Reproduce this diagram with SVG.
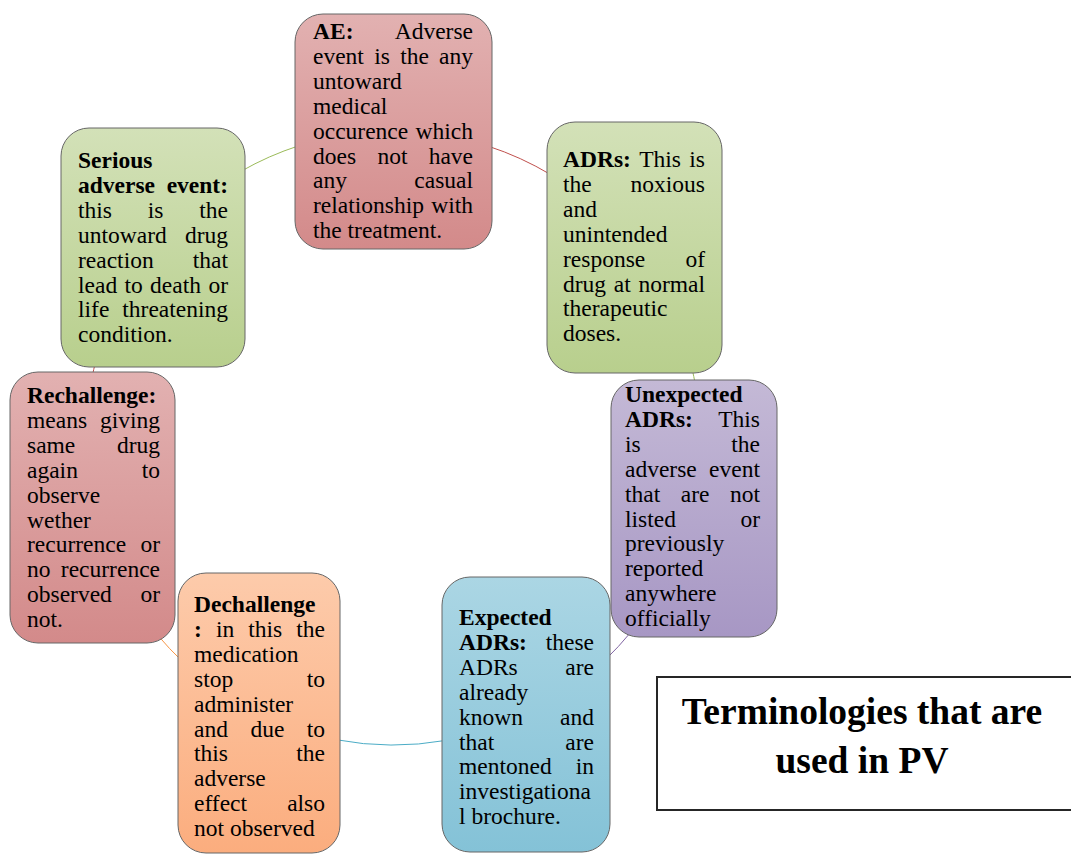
<svg xmlns="http://www.w3.org/2000/svg" width="1071" height="854" viewBox="0 0 1071 854">
<defs>
<linearGradient id="gRed" x1="0" y1="0" x2="0" y2="1"><stop offset="0" stop-color="#e2b1b1"/><stop offset="1" stop-color="#d38a8a"/></linearGradient>
<linearGradient id="gGreen" x1="0" y1="0" x2="0" y2="1"><stop offset="0" stop-color="#d3e1b8"/><stop offset="1" stop-color="#b8cf8d"/></linearGradient>
<linearGradient id="gPurple" x1="0" y1="0" x2="0" y2="1"><stop offset="0" stop-color="#c4b9d6"/><stop offset="1" stop-color="#a797c4"/></linearGradient>
<linearGradient id="gBlue" x1="0" y1="0" x2="0" y2="1"><stop offset="0" stop-color="#abd6e4"/><stop offset="1" stop-color="#84c2d7"/></linearGradient>
<linearGradient id="gOrange" x1="0" y1="0" x2="0" y2="1"><stop offset="0" stop-color="#fdcbab"/><stop offset="1" stop-color="#fbad7e"/></linearGradient>
</defs>
<style>
.box{stroke:#666;stroke-width:1}
.t{font-family:"Liberation Serif","Times New Roman",serif;font-size:23.5px;fill:#000}
.b{font-weight:bold}
.e{text-anchor:end}
.c{fill:none;stroke-width:1}
.title{font-family:"Liberation Serif","Times New Roman",serif;font-size:37.5px;font-weight:bold;text-anchor:middle;fill:#000}
</style>
<rect width="1071" height="854" fill="#fff"/>
<g id="connectors">
<path class="c" stroke="#c0504d" d="M488,146.1 A307,307 0 0 1 551,174.8"/>
<path class="c" stroke="#9bbb59" d="M691.9,368 A307,307 0 0 1 695.4,385"/>
<path class="c" stroke="#8064a2" d="M630.1,633 A307,307 0 0 1 606,659.1"/>
<path class="c" stroke="#4bacc6" d="M446,740.4 A307,307 0 0 1 336,739.7"/>
<path class="c" stroke="#f79646" d="M182,661 A307,307 0 0 1 158,635.5"/>
<path class="c" stroke="#c0504d" d="M92.3,376 A307,307 0 0 1 95.3,363"/>
<path class="c" stroke="#9bbb59" d="M241,171.3 A307,307 0 0 1 299,145.7"/>
</g>
<g id="node-ae">
<rect class="box" x="295" y="14" width="197" height="235" rx="28" fill="url(#gRed)"/>
<text class="t b" x="313" y="39">AE:</text><text class="t e" x="473" y="39">Adverse</text>
<text class="t" y="63.9"><tspan x="313">event</tspan><tspan x="374.2">is</tspan><tspan x="400.2">the</tspan></text><text class="t e" x="473" y="63.9">any</text>
<text class="t" x="313" y="88.8">untoward</text>
<text class="t" x="313" y="113.7">medical</text>
<text class="t" x="313" y="138.6">occurence</text><text class="t e" x="473" y="138.6">which</text>
<text class="t" y="163.5"><tspan x="313">does</tspan><tspan x="377.4">not</tspan></text><text class="t e" x="473" y="163.5">have</text>
<text class="t" x="313" y="188.4">any</text><text class="t e" x="473" y="188.4">casual</text>
<text class="t" x="313" y="213.3">relationship</text><text class="t e" x="473" y="213.3">with</text>
<text class="t" x="313" y="238.2">the treatment.</text>
</g>
<g id="node-adrs">
<rect class="box" x="547" y="122" width="175" height="251" rx="28" fill="url(#gGreen)"/>
<text class="t" y="167"><tspan class="b" x="563">ADRs:</tspan><tspan x="639.2">This</tspan></text><text class="t e" x="705" y="167">is</text>
<text class="t" x="563" y="191.9">the</text><text class="t e" x="705" y="191.9">noxious</text>
<text class="t" x="563" y="216.8">and</text>
<text class="t" x="563" y="241.7">unintended</text>
<text class="t" x="563" y="266.6">response</text><text class="t e" x="705" y="266.6">of</text>
<text class="t" y="291.5"><tspan x="563">drug</tspan><tspan x="613.8">at</tspan></text><text class="t e" x="705" y="291.5">normal</text>
<text class="t" x="563" y="316.4">therapeutic</text>
<text class="t" x="563" y="341.3">doses.</text>
</g>
<g id="node-unexpected">
<rect class="box" x="611" y="380" width="166" height="257" rx="28" fill="url(#gPurple)"/>
<text class="t b" x="625" y="402">Unexpected</text>
<text class="t b" x="625" y="426.9">ADRs:</text><text class="t e" x="760" y="426.9">This</text>
<text class="t" x="625" y="451.8">is</text><text class="t e" x="760" y="451.8">the</text>
<text class="t" x="625" y="476.7">adverse</text><text class="t e" x="760" y="476.7">event</text>
<text class="t" y="501.6"><tspan x="625">that</tspan><tspan x="680.8">are</tspan></text><text class="t e" x="760" y="501.6">not</text>
<text class="t" x="625" y="526.5">listed</text><text class="t e" x="760" y="526.5">or</text>
<text class="t" x="625" y="551.4">previously</text>
<text class="t" x="625" y="576.3">reported</text>
<text class="t" x="625" y="601.2">anywhere</text>
<text class="t" x="625" y="626.1">officially</text>
</g>
<g id="node-expected">
<rect class="box" x="442" y="577" width="168" height="275" rx="28" fill="url(#gBlue)"/>
<text class="t b" x="459" y="625">Expected</text>
<text class="t b" x="459" y="649.9">ADRs:</text><text class="t e" x="594" y="649.9">these</text>
<text class="t" x="459" y="674.8">ADRs</text><text class="t e" x="594" y="674.8">are</text>
<text class="t" x="459" y="699.7">already</text>
<text class="t" x="459" y="724.6">known</text><text class="t e" x="594" y="724.6">and</text>
<text class="t" x="459" y="749.5">that</text><text class="t e" x="594" y="749.5">are</text>
<text class="t" x="459" y="774.4">mentoned</text><text class="t e" x="594" y="774.4">in</text>
<text class="t" x="459" y="799.3">investigationa</text>
<text class="t" x="459" y="824.2">l brochure.</text>
</g>
<g id="node-dechallenge">
<rect class="box" x="178" y="573" width="162" height="280" rx="28" fill="url(#gOrange)"/>
<text class="t b" x="194" y="612">Dechallenge</text>
<text class="t" y="636.9"><tspan class="b" x="194">:</tspan><tspan x="215.9">in</tspan><tspan x="248.3">this</tspan></text><text class="t e" x="325" y="636.9">the</text>
<text class="t" x="194" y="661.8">medication</text>
<text class="t" x="194" y="686.7">stop</text><text class="t e" x="325" y="686.7">to</text>
<text class="t" x="194" y="711.6">administer</text>
<text class="t" y="736.5"><tspan x="194">and</tspan><tspan x="250.4">due</tspan></text><text class="t e" x="325" y="736.5">to</text>
<text class="t" x="194" y="761.4">this</text><text class="t e" x="325" y="761.4">the</text>
<text class="t" x="194" y="786.3">adverse</text>
<text class="t" x="194" y="811.2">effect</text><text class="t e" x="325" y="811.2">also</text>
<text class="t" x="194" y="836.1">not observed</text>
</g>
<g id="node-rechallenge">
<rect class="box" x="10" y="372" width="165" height="271" rx="28" fill="url(#gRed)"/>
<text class="t b" x="27" y="403">Rechallenge:</text>
<text class="t" x="27" y="427.9">means</text><text class="t e" x="160" y="427.9">giving</text>
<text class="t" x="27" y="452.8">same</text><text class="t e" x="160" y="452.8">drug</text>
<text class="t" x="27" y="477.7">again</text><text class="t e" x="160" y="477.7">to</text>
<text class="t" x="27" y="502.6">observe</text>
<text class="t" x="27" y="527.5">wether</text>
<text class="t" x="27" y="552.4">recurrence</text><text class="t e" x="160" y="552.4">or</text>
<text class="t" x="27" y="577.3">no</text><text class="t e" x="160" y="577.3">recurrence</text>
<text class="t" x="27" y="602.2">observed</text><text class="t e" x="160" y="602.2">or</text>
<text class="t" x="27" y="627.1">not.</text>
</g>
<g id="node-serious">
<rect class="box" x="61" y="128" width="184" height="239" rx="28" fill="url(#gGreen)"/>
<text class="t b" x="78" y="168">Serious</text>
<text class="t b" x="78" y="192.9">adverse</text><text class="t b e" x="228" y="192.9">event:</text>
<text class="t" y="217.8"><tspan x="78">this</tspan><tspan x="147.8">is</tspan></text><text class="t e" x="228" y="217.8">the</text>
<text class="t" x="78" y="242.7">untoward</text><text class="t e" x="228" y="242.7">drug</text>
<text class="t" x="78" y="267.6">reaction</text><text class="t e" x="228" y="267.6">that</text>
<text class="t" y="292.5"><tspan x="78">lead</tspan><tspan x="124.5">to</tspan><tspan x="150.1">death</tspan></text><text class="t e" x="228" y="292.5">or</text>
<text class="t" x="78" y="317.4">life</text><text class="t e" x="228" y="317.4">threatening</text>
<text class="t" x="78" y="342.3">condition.</text>
</g>
<g id="title">
<rect x="657" y="677" width="430" height="133" fill="#fff" stroke="#262626" stroke-width="2"/>
<text class="title" x="862" y="724">Terminologies that are</text>
<text class="title" x="862" y="773">used in PV</text>
</g>
</svg>
